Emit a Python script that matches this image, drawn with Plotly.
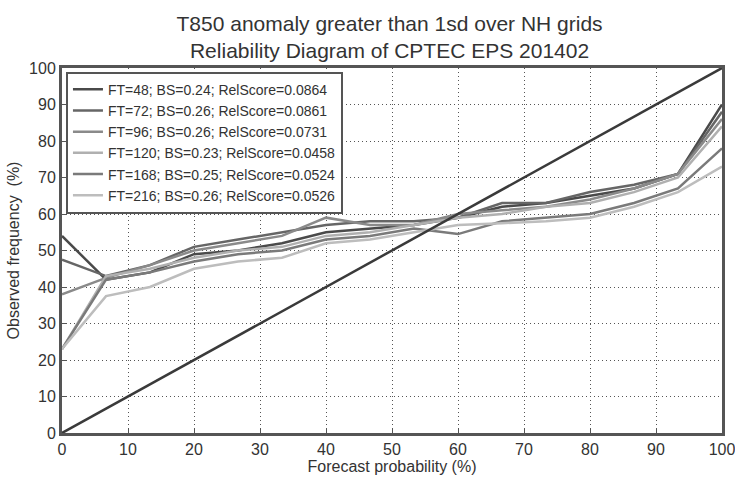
import plotly.graph_objects as go

prob = [0, 6.67, 13.33, 20, 26.67, 33.33, 40, 46.67, 53.33, 60, 66.67, 73.33, 80, 86.67, 93.33, 100]

labels = [
    "FT=48; BS=0.24; RelScore=0.0864",
    "FT=72; BS=0.26; RelScore=0.0861",
    "FT=96; BS=0.26; RelScore=0.0731",
    "FT=120; BS=0.23; RelScore=0.0458",
    "FT=168; BS=0.25; RelScore=0.0524",
    "FT=216; BS=0.26; RelScore=0.0526",
]

ft48 = [54, 42, 44, 49, 50, 52, 55, 56, 57, 59, 62, 63, 65, 67, 71, 90]
ft72 = [47.5, 43, 46, 51, 53, 55, 57, 58, 58, 59, 63, 63, 66, 68, 71, 88]
ft96 = [38, 42.5, 46, 50, 52, 54, 59, 57, 57, 60, 61, 62, 64, 67, 71, 86]
ft120 = [23, 43, 45, 48, 50, 51, 54, 55, 57, 59, 60, 62, 63, 66, 70, 84]
ft168 = [23, 42, 44, 47, 49, 50, 53, 54, 56, 54.5, 58, 59, 60, 63, 67, 78]
ft216 = [23, 37.5, 40, 45, 47, 48, 52, 53, 55, 57, 57.5, 58, 59, 62, 66, 73]

series = [ft48, ft72, ft96, ft120, ft168, ft216]
colors = ["#4a4a4a", "#666666", "#8a8a8a", "#b0b0b0", "#7a7a7a", "#bdbdbd"]

diag = [0, 100]

fig = go.Figure()
for lab, ys, c in zip(labels, series, colors):
    fig.add_trace(go.Scatter(x=prob, y=ys, mode="lines", name=lab,
                             line=dict(color=c, width=2.5)))
fig.add_trace(go.Scatter(x=diag, y=diag, mode="lines", showlegend=False,
                         line=dict(color="#3a3a3a", width=2.5)))

font = "Liberation Sans, Arial, sans-serif"
fig.update_layout(
    width=735, height=477,
    margin=dict(l=62, r=13, t=68, b=44, autoexpand=False),
    paper_bgcolor="white", plot_bgcolor="white",
    font=dict(family=font, color="#333333", size=16),
    title=dict(text="T850 anomaly greater than 1sd over NH grids<br>Reliability Diagram of CPTEC EPS 201402",
               x=0.53, xanchor="center", y=0.935, yanchor="middle",
               font=dict(size=21, color="#333333")),
    legend=dict(x=0.006, y=0.99, xanchor="left", yanchor="top",
                bgcolor="white", bordercolor="#555555", borderwidth=2,
                font=dict(size=14, color="#333333"), tracegroupgap=0,
                itemwidth=30),
    showlegend=True,
)
fig.update_xaxes(range=[0, 100], dtick=10, tick0=0, automargin=False,
                 ticklabeloverflow="allow",
                 showgrid=True, gridcolor="#555555", griddash="1px,3px", gridwidth=1,
                 showline=True, linecolor="#555555", linewidth=3, mirror=True,
                 ticks="inside", ticklen=4, tickcolor="#555555",
                 zeroline=False,
                 title=dict(text="Forecast probability (%)", standoff=4, font=dict(size=16)))
fig.update_yaxes(range=[0, 100], dtick=10, tick0=0, automargin=False,
                 ticklabeloverflow="allow",
                 showgrid=True, gridcolor="#555555", griddash="1px,3px", gridwidth=1,
                 showline=True, linecolor="#555555", linewidth=3, mirror=True,
                 ticks="inside", ticklen=4, tickcolor="#555555",
                 zeroline=False,
                 title=dict(text="Observed frequency  (%)", standoff=6, font=dict(size=16)))

fig.write_html("out.html")
